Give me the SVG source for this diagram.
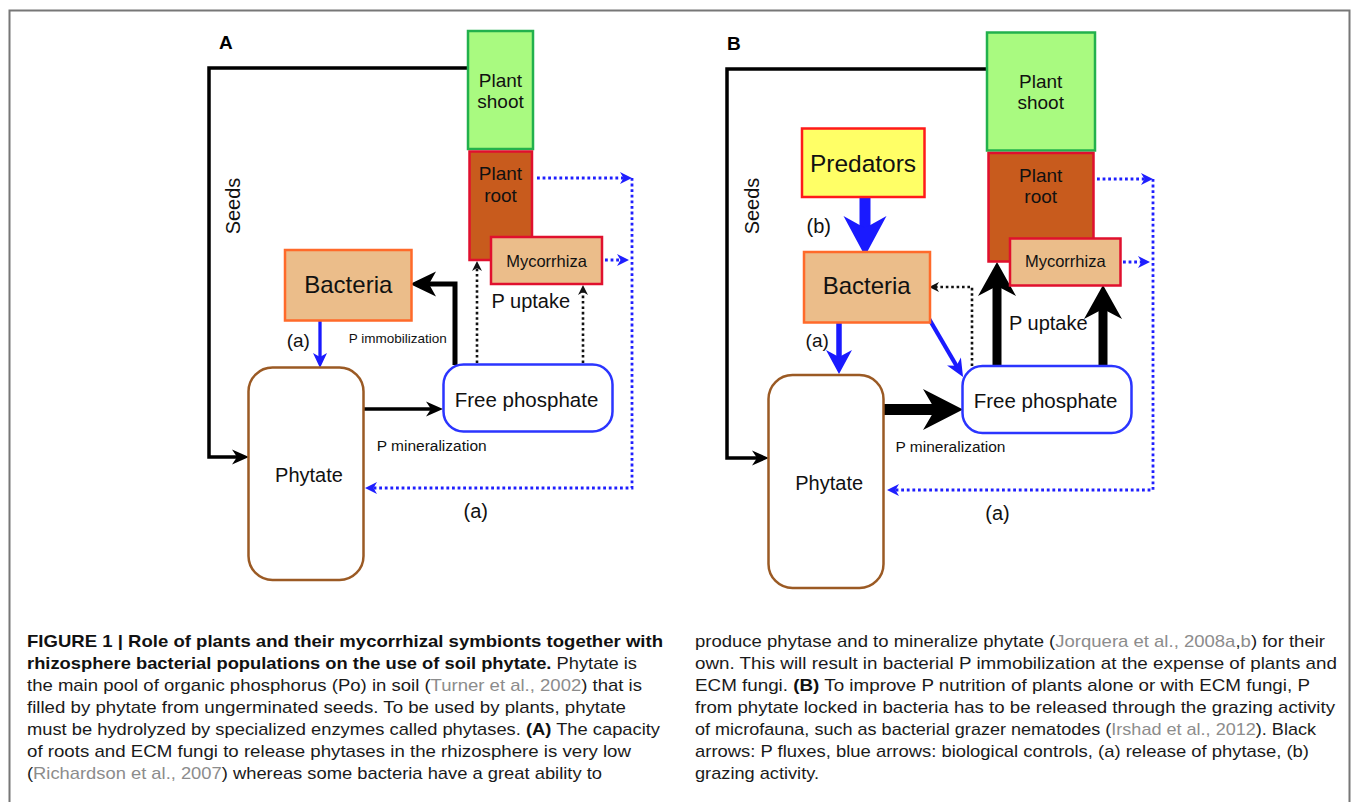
<svg xmlns="http://www.w3.org/2000/svg" width="1353" height="802" viewBox="0 0 1353 802">
<style>
.t{font-family:"Liberation Sans",Arial,sans-serif;fill:#111;text-anchor:middle}
.shoot{fill:#a9fa80;stroke:#22b14c;stroke-width:2.5}
.root{fill:#c85b1d;stroke:#e0102e;stroke-width:2.5}
.myco{fill:#ebbd8a;stroke:#e0102e;stroke-width:2.5}
.bact{fill:#ebbd8a;stroke:#ff6a2a;stroke-width:2.5}
.pred{fill:#ffff66;stroke:#ff1a1a;stroke-width:2.5}
.phyt{fill:#fff;stroke:#9b5a24;stroke-width:2.5}
.fp{fill:#fff;stroke:#2b35ff;stroke-width:2.5}
.k{fill:none;stroke:#000}
.b{fill:none;stroke:#1a1aff}
.dk{fill:none;stroke:#111;stroke-width:2.6;stroke-dasharray:2.6 2.8}
.db{fill:none;stroke:#1f1fff;stroke-width:2.8;stroke-dasharray:2.8 2.8}
.cap{font-family:"Liberation Sans",Arial,sans-serif;font-size:17px;fill:#1a1a1a}
.bd{font-weight:bold;fill:#111}
.ci{fill:#8c8c8c}
</style>
<defs>
<marker id="mBlk" markerUnits="userSpaceOnUse" markerWidth="17" markerHeight="15" refX="7" refY="7.5" orient="auto" overflow="visible"><path d="M0,0 L17,7.5 L0,15 L5,7.5z" fill="#000"/></marker>
<marker id="mImm" markerUnits="userSpaceOnUse" markerWidth="26" markerHeight="25" refX="10" refY="12.5" orient="auto" overflow="visible"><path d="M0,0 L26,12.5 L0,25 L7,12.5z" fill="#000"/></marker>
<marker id="mBlu" markerUnits="userSpaceOnUse" markerWidth="15" markerHeight="14" refX="6" refY="7" orient="auto" overflow="visible"><path d="M0,0 L15,7 L0,14 L4,7z" fill="#1a1aff"/></marker>
<marker id="mDotK" markerUnits="userSpaceOnUse" markerWidth="10" markerHeight="10" refX="4" refY="5" orient="auto" overflow="visible"><path d="M0,0 L10,5 L0,10 L3,5z" fill="#111"/></marker>
<marker id="mDotB" markerUnits="userSpaceOnUse" markerWidth="12" markerHeight="12" refX="4" refY="6" orient="auto" overflow="visible"><path d="M0,0 L12,6 L0,12 L3.5,6z" fill="#1f1fff"/></marker>
<marker id="mBluB" markerUnits="userSpaceOnUse" markerWidth="24" markerHeight="26" refX="9" refY="13" orient="auto" overflow="visible"><path d="M0,0 L24,13 L0,26 L7,13z" fill="#1a1aff"/></marker>
<marker id="mBluD" markerUnits="userSpaceOnUse" markerWidth="18" markerHeight="16" refX="7" refY="8" orient="auto" overflow="visible"><path d="M0,0 L18,8 L0,16 L5,8z" fill="#1a1aff"/></marker>
<marker id="mBigK" markerUnits="userSpaceOnUse" markerWidth="40" markerHeight="41" refX="14" refY="20.5" orient="auto" overflow="visible"><path d="M0,0 L40,20.5 L0,41 L12,20.5z" fill="#000"/></marker>
<marker id="mUpK" markerUnits="userSpaceOnUse" markerWidth="34" markerHeight="38" refX="12" refY="19" orient="auto" overflow="visible"><path d="M0,0 L34,19 L0,38 L10,19z" fill="#000"/></marker>
<marker id="mRootK" markerUnits="userSpaceOnUse" markerWidth="25" markerHeight="26" refX="9" refY="13" orient="auto" overflow="visible"><path d="M0,0 L25,13 L0,26 L7,13z" fill="#000"/></marker>
<marker id="mPred" markerUnits="userSpaceOnUse" markerWidth="40" markerHeight="43" refX="14" refY="21.5" orient="auto" overflow="visible"><path d="M0,0 L40,21.5 L0,43 L12,21.5z" fill="#1a1aff"/></marker>
</defs>
<rect width="1353" height="802" fill="#fff"/>
<path d="M9.5,805 V10.5 H1349.5 V805" fill="none" stroke="#777" stroke-width="2"/>

<!-- Panel A -->
<text x="219" y="49" style="font-family:'Liberation Sans',Arial,sans-serif;font-weight:bold;font-size:19px">A</text>
<g id="connectorsA">
<path class="k" stroke-width="3.5" d="M468,68 H209 V457 H239" marker-end="url(#mBlk)"/>
<path class="b" stroke-width="3.3" d="M320,321 V359" marker-end="url(#mBlu)"/>
<path class="k" stroke-width="5" d="M455,365 V284 H426" marker-end="url(#mImm)"/>
<path class="k" stroke-width="3.3" d="M363,409 H433" marker-end="url(#mBlk)"/>
<path class="dk" d="M477,363 V267" marker-end="url(#mDotK)"/>
<path class="dk" d="M583,363 V291" marker-end="url(#mDotK)"/>
<path class="dk" d="M521,236 V213" marker-end="url(#mDotK)"/>
<path class="db" d="M537,178 H624" marker-end="url(#mDotB)"/>
<path class="db" d="M605,260 H621" marker-end="url(#mDotB)"/>
<path class="db" d="M632,178 V488 H373" marker-end="url(#mDotB)"/>
</g>
<g id="A-shoot"><rect class="shoot" x="468" y="31" width="65" height="118"/><text class="t" x="500.5" y="87" font-size="19">Plant</text><text class="t" x="500.5" y="108" font-size="19">shoot</text></g>
<g id="A-root"><rect class="root" x="469.5" y="151.5" width="62.5" height="108.5"/><text class="t" x="500.5" y="180" font-size="19">Plant</text><text class="t" x="500.5" y="201.5" font-size="19">root</text></g>
<g id="A-myco"><rect class="myco" x="491" y="237" width="111" height="47"/><text class="t" x="546.5" y="266.5" font-size="16.5">Mycorrhiza</text></g>
<g id="A-bact"><rect class="bact" x="285" y="250" width="126.5" height="70.5"/><text class="t" x="348.3" y="293.3" font-size="24">Bacteria</text></g>
<g id="A-phyt"><rect class="phyt" x="248.5" y="367.5" width="115" height="212.5" rx="24"/><text class="t" x="309" y="481.7" font-size="20">Phytate</text></g>
<g id="A-fp"><rect class="fp" x="443.5" y="364.5" width="169" height="67" rx="20"/><text class="t" x="526.5" y="406.7" font-size="20.5">Free phosphate</text></g>
<g id="A-labels">
<text class="t" x="240" y="206" font-size="20" transform="rotate(-90 240 206)">Seeds</text>
<text class="t" x="298.3" y="346.7" font-size="19">(a)</text>
<text class="t" x="397.8" y="342.7" font-size="13.5">P immobilization</text>
<text class="t" x="431.7" y="450.7" font-size="15.5">P mineralization</text>
<text class="t" x="530.8" y="308.3" font-size="20">P uptake</text>
<text class="t" x="475.8" y="518.3" font-size="20">(a)</text>
</g>

<!-- Panel B -->
<text x="727" y="50" style="font-family:'Liberation Sans',Arial,sans-serif;font-weight:bold;font-size:19px">B</text>
<g id="connectorsB">
<path class="k" stroke-width="3.5" d="M987,69 H727 V458 H759" marker-end="url(#mBlk)"/>
<path class="b" stroke-width="11" d="M865,197 V230" marker-end="url(#mPred)"/>
<path class="b" stroke-width="5.5" d="M839,322 V359" marker-end="url(#mBluB)"/>
<path class="b" stroke-width="4.2" d="M928,317 L957.5,367.5" marker-end="url(#mBluD)"/>
<path class="dk" d="M972,366 V287 H935" marker-end="url(#mDotK)"/>
<path class="k" stroke-width="11" d="M883,409.5 H937" marker-end="url(#mBigK)"/>
<path class="k" stroke-width="9" d="M997,366 V284" marker-end="url(#mUpK)"/>
<path class="k" stroke-width="9" d="M1103,366 V307" marker-end="url(#mUpK)"/>
<path class="k" stroke-width="6.5" d="M1041,238 V224" marker-end="url(#mRootK)"/>
<path class="db" d="M1097,179 H1145" marker-end="url(#mDotB)"/>
<path class="db" d="M1123,262 H1142" marker-end="url(#mDotB)"/>
<path class="db" d="M1153,179 V490 H895" marker-end="url(#mDotB)"/>
</g>
<g id="B-shoot"><rect class="shoot" x="987" y="32.5" width="108" height="118"/><text class="t" x="1040.7" y="88.3" font-size="19">Plant</text><text class="t" x="1040.7" y="109.3" font-size="19">shoot</text></g>
<g id="B-root"><rect class="root" x="988.5" y="153" width="105" height="108.5"/><text class="t" x="1040.7" y="181.7" font-size="19">Plant</text><text class="t" x="1040.7" y="202.7" font-size="19">root</text></g>
<g id="B-myco"><rect class="myco" x="1010" y="238.5" width="110.5" height="47"/><text class="t" x="1065.3" y="267.3" font-size="16.5">Mycorrhiza</text></g>
<g id="B-pred"><rect class="pred" x="802" y="128.5" width="122.5" height="68.5"/><text class="t" x="863" y="171.7" font-size="24.5">Predators</text></g>
<g id="B-bact"><rect class="bact" x="804" y="252" width="126" height="70.5"/><text class="t" x="866.7" y="294" font-size="24">Bacteria</text></g>
<g id="B-phyt"><rect class="phyt" x="768.5" y="375" width="115" height="213" rx="24"/><text class="t" x="829.2" y="490" font-size="20">Phytate</text></g>
<g id="B-fp"><rect class="fp" x="962.5" y="366" width="169" height="67" rx="20"/><text class="t" x="1045.5" y="408.3" font-size="20.5">Free phosphate</text></g>
<g id="B-labels">
<text class="t" x="759" y="206" font-size="20" transform="rotate(-90 759 206)">Seeds</text>
<text class="t" x="818.7" y="233.3" font-size="20">(b)</text>
<text class="t" x="817.2" y="346.7" font-size="19">(a)</text>
<text class="t" x="1048.3" y="330" font-size="20">P uptake</text>
<text class="t" x="950.5" y="451.7" font-size="15.5">P mineralization</text>
<text class="t" x="997.5" y="520" font-size="20">(a)</text>
</g>

<!-- Caption -->
<g id="caption">
<text class="cap" x="27" y="647" textLength="636" lengthAdjust="spacingAndGlyphs"><tspan class="bd">FIGURE 1 | Role of plants and their mycorrhizal symbionts together with</tspan></text>
<text class="cap" x="27" y="669" textLength="610" lengthAdjust="spacingAndGlyphs"><tspan class="bd">rhizosphere bacterial populations on the use of soil phytate.</tspan> Phytate is</text>
<text class="cap" x="27" y="691" textLength="615" lengthAdjust="spacingAndGlyphs">the main pool of organic phosphorus (Po) in soil (<tspan class="ci">Turner et al., 2002</tspan>) that is</text>
<text class="cap" x="27" y="713" textLength="599" lengthAdjust="spacingAndGlyphs">filled by phytate from ungerminated seeds. To be used by plants, phytate</text>
<text class="cap" x="27" y="735" textLength="633" lengthAdjust="spacingAndGlyphs">must be hydrolyzed by specialized enzymes called phytases. <tspan class="bd">(A)</tspan> The capacity</text>
<text class="cap" x="27" y="757" textLength="604" lengthAdjust="spacingAndGlyphs">of roots and ECM fungi to release phytases in the rhizosphere is very low</text>
<text class="cap" x="27" y="779" textLength="575" lengthAdjust="spacingAndGlyphs">(<tspan class="ci">Richardson et al., 2007</tspan>) whereas some bacteria have a great ability to</text>
<text class="cap" x="695" y="647" textLength="630" lengthAdjust="spacingAndGlyphs">produce phytase and to mineralize phytate (<tspan class="ci">Jorquera et al., 2008a</tspan>,<tspan class="ci">b</tspan>) for their</text>
<text class="cap" x="695" y="669" textLength="642" lengthAdjust="spacingAndGlyphs">own. This will result in bacterial P immobilization at the expense of plants and</text>
<text class="cap" x="695" y="691" textLength="615" lengthAdjust="spacingAndGlyphs">ECM fungi. <tspan class="bd">(B)</tspan> To improve P nutrition of plants alone or with ECM fungi, P</text>
<text class="cap" x="695" y="713" textLength="640" lengthAdjust="spacingAndGlyphs">from phytate locked in bacteria has to be released through the grazing activity</text>
<text class="cap" x="695" y="735" textLength="621" lengthAdjust="spacingAndGlyphs">of microfauna, such as bacterial grazer nematodes (<tspan class="ci">Irshad et al., 2012</tspan>). Black</text>
<text class="cap" x="695" y="757" textLength="614" lengthAdjust="spacingAndGlyphs">arrows: P fluxes, blue arrows: biological controls, (a) release of phytase, (b)</text>
<text class="cap" x="695" y="779" textLength="124" lengthAdjust="spacingAndGlyphs">grazing activity.</text>
</g>
</svg>
